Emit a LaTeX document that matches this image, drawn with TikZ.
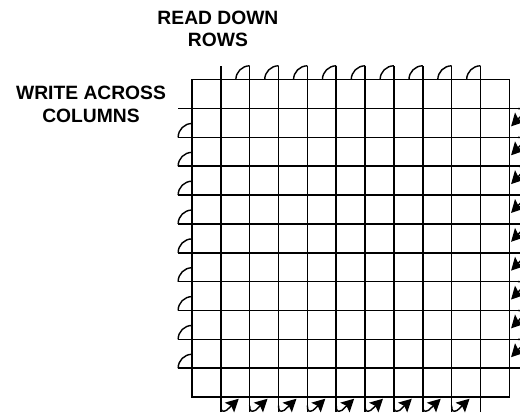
\documentclass[tikz,border=0pt]{standalone}
\usepackage{fontspec}
\setmainfont{Liberation Sans}
\usetikzlibrary{arrows.meta}

\begin{document}
\begin{tikzpicture}[
  gridline/.style={line width=1.5pt},
  hook/.style={line width=1.4pt},
  feed/.style={line width=1.4pt, -{Stealth[length=4.4mm,width=4.6mm,inset=0.8mm]}},
  caption/.style={font=\fontsize{19}{22}\selectfont\bfseries, align=center, inner sep=0pt}
]
  \def\r{0.48}
  \useasboundingbox (-6.655,-0.693) rectangle (11.369,13.761);
  \clip (-6.655,-0.693) rectangle (11.369,13.761);

  % frame and inner grid lines
  \draw[gridline] (0,0) rectangle (11,11);
  \foreach \i in {1,...,10} {
    \draw[gridline] (\i,-0.52) -- (\i,11+\r);
    \draw[gridline] (-\r,\i) -- (11.5,\i);
  }

  % hooks on the read and write sides
  \foreach \i in {2,...,10}
    \draw[hook] (\i-\r,11) arc[start angle=180, end angle=90, radius=\r];
  \foreach \i in {1,...,9}
    \draw[hook] (-\r,\i) arc[start angle=180, end angle=90, radius=\r];

  % feed-back arrows, bottom and right
  \foreach \i in {1,...,9}
    \draw[feed] (\i,-0.3) .. controls (\i,-0.5) and (\i+0.05,-0.53) .. (\i+0.2,-0.46) -- (\i+0.62,-0.06);
  \foreach \i in {2,...,10}
    \draw[feed] (11.3,\i) .. controls (11.5,\i) and (11.53,\i-0.05) .. (11.46,\i-0.2) -- (11.06,\i-0.62);

  \node[caption, anchor=base] (readlbl) at (0.9,12.14) {READ DOWN\\ROWS};
  \node[caption, anchor=base] (writelbl) at (-3.5,9.53) {WRITE ACROSS\\COLUMNS};
\end{tikzpicture}
\end{document}
